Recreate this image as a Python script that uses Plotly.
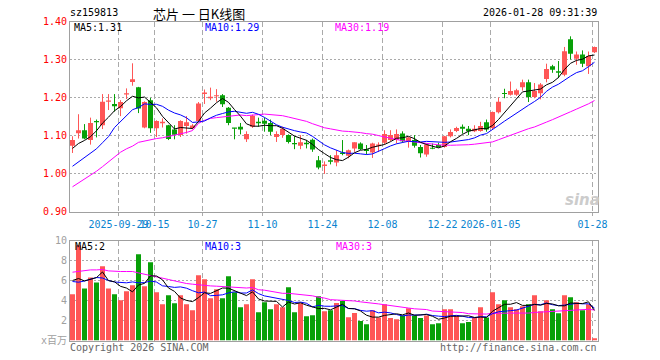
import plotly.graph_objects as go
import pandas as pd

W, H = 660, 360
OX, OY = 0, 0   # body margin is removed by the post script below

# ---------------- data ----------------
holidays = ["2025-10-01", "2025-10-02", "2025-10-03", "2025-10-06", "2025-10-07",
            "2025-10-08", "2026-01-01", "2026-01-02"]
dates = [d.strftime("%Y-%m-%d") for d in pd.bdate_range("2025-09-17", "2026-01-28")
         if d.strftime("%Y-%m-%d") not in holidays]

opens = [1.073, 1.106, 1.114, 1.088, 1.138, 1.127, 1.189, 1.183, 1.172, 1.208,
         1.241, 1.227, 1.121, 1.193, 1.119, 1.132, 1.127, 1.116, 1.101, 1.125,
         1.119, 1.138, 1.209, 1.198, 1.203, 1.206, 1.173, 1.120, 1.123, 1.090,
         1.123, 1.136, 1.139, 1.133, 1.096, 1.101, 1.101, 1.080, 1.073, 1.081,
         1.089, 1.035, 1.020, 1.035, 1.029, 1.055, 1.047, 1.066, 1.079, 1.064,
         1.055, 1.073, 1.081, 1.088, 1.089, 1.105, 1.085, 1.088, 1.070, 1.050,
         1.068, 1.075, 1.070, 1.098, 1.112, 1.123, 1.118, 1.111, 1.112, 1.135,
         1.120, 1.161, 1.212, 1.207, 1.207, 1.227, 1.240, 1.201, 1.211, 1.249,
         1.282, 1.269, 1.260, 1.353, 1.302, 1.313, 1.282, 1.319]
highs = [1.098, 1.156, 1.130, 1.147, 1.142, 1.209, 1.209, 1.209, 1.193, 1.224,
         1.290, 1.228, 1.190, 1.199, 1.140, 1.145, 1.128, 1.127, 1.140, 1.151,
         1.130, 1.188, 1.221, 1.226, 1.222, 1.209, 1.175, 1.120, 1.133, 1.111,
         1.155, 1.147, 1.147, 1.142, 1.111, 1.123, 1.103, 1.098, 1.101, 1.088,
         1.092, 1.046, 1.032, 1.048, 1.061, 1.088, 1.063, 1.082, 1.082, 1.075,
         1.081, 1.082, 1.114, 1.114, 1.116, 1.111, 1.096, 1.101, 1.075, 1.079,
         1.079, 1.081, 1.099, 1.116, 1.123, 1.129, 1.125, 1.127, 1.136, 1.142,
         1.163, 1.200, 1.223, 1.242, 1.223, 1.247, 1.247, 1.238, 1.238, 1.289,
         1.286, 1.296, 1.333, 1.361, 1.321, 1.324, 1.321, 1.334]
lows = [1.054, 1.092, 1.090, 1.076, 1.095, 1.117, 1.167, 1.163, 1.151, 1.196,
        1.231, 1.159, 1.119, 1.107, 1.096, 1.121, 1.088, 1.090, 1.096, 1.105,
        1.116, 1.135, 1.183, 1.193, 1.189, 1.175, 1.127, 1.090, 1.103, 1.083,
        1.120, 1.123, 1.110, 1.101, 1.083, 1.094, 1.079, 1.064, 1.064, 1.066,
        1.057, 1.011, 0.999, 1.024, 1.019, 1.048, 1.040, 1.057, 1.062, 1.050,
        1.041, 1.057, 1.076, 1.085, 1.079, 1.081, 1.068, 1.068, 1.042, 1.044,
        1.064, 1.068, 1.068, 1.095, 1.109, 1.105, 1.101, 1.109, 1.110, 1.110,
        1.116, 1.158, 1.198, 1.205, 1.204, 1.218, 1.188, 1.198, 1.195, 1.240,
        1.265, 1.251, 1.256, 1.300, 1.286, 1.280, 1.262, 1.317]
closes = [1.088, 1.114, 1.092, 1.133, 1.135, 1.189, 1.192, 1.177, 1.188, 1.211,
          1.248, 1.171, 1.188, 1.119, 1.138, 1.136, 1.091, 1.102, 1.138, 1.135,
          1.126, 1.184, 1.213, 1.202, 1.206, 1.182, 1.133, 1.118, 1.116, 1.104,
          1.152, 1.132, 1.131, 1.110, 1.104, 1.118, 1.083, 1.077, 1.082, 1.077,
          1.063, 1.016, 1.024, 1.031, 1.048, 1.051, 1.061, 1.082, 1.064, 1.059,
          1.079, 1.076, 1.104, 1.101, 1.104, 1.085, 1.095, 1.073, 1.053, 1.076,
          1.065, 1.070, 1.098, 1.109, 1.120, 1.118, 1.111, 1.118, 1.125, 1.116,
          1.162, 1.189, 1.209, 1.217, 1.219, 1.240, 1.201, 1.217, 1.234, 1.275,
          1.273, 1.265, 1.322, 1.315, 1.313, 1.289, 1.309, 1.333]
volumes = [4.63, 9.53, 5.20, 6.30, 5.80, 7.43, 5.20, 4.63, 4.03, 4.93,
           5.53, 8.63, 5.43, 7.83, 4.83, 3.63, 4.53, 3.73, 4.53, 3.63,
           3.03, 6.53, 6.13, 4.23, 5.13, 4.23, 6.43, 4.83, 3.33, 3.63,
           6.13, 2.83, 3.83, 3.13, 3.63, 3.33, 5.33, 2.83, 3.73, 2.43,
           2.53, 4.43, 2.93, 3.03, 3.76, 3.96, 2.33, 2.76, 1.96, 1.63,
           3.03, 2.30, 3.63, 2.26, 2.13, 2.50, 3.23, 2.50, 2.26, 2.50,
           1.63, 1.73, 3.13, 3.13, 2.50, 1.73, 1.86, 2.30, 3.33, 2.30,
           4.83, 3.63, 4.03, 3.33, 3.13, 3.43, 3.63, 4.53, 2.93, 4.03,
           3.13, 2.73, 4.53, 4.33, 3.83, 3.03, 3.63, 0.23]

ma5_head = [1.066, 1.079, 1.087, 1.097]
ma10_head = [1.019, 1.031, 1.043, 1.054, 1.065, 1.081, 1.097, 1.121, 1.137]
ma30_head = [0.965, 0.975, 0.985, 0.996, 1.006, 1.018, 1.031, 1.043, 1.056, 1.065,
             1.072, 1.082, 1.086, 1.090, 1.092, 1.094, 1.097, 1.100, 1.104, 1.108,
             1.113, 1.132, 1.140, 1.145, 1.147, 1.149, 1.150, 1.152, 1.154]
vma5_head = [6.00, 6.20, 5.96, 6.10]
vma10_head = [5.90, 5.83, 5.95, 6.10, 6.30, 6.25, 6.00, 5.85, 5.80]
vma30_head = [6.83, 6.93, 7.03, 7.06, 7.06, 7.10, 6.96, 6.90, 6.90, 6.90,
              6.90, 6.76, 6.63, 6.56, 6.43, 6.26, 6.10, 5.96, 5.80, 5.70,
              5.63, 5.56, 5.50, 5.46, 5.43, 5.40, 5.36, 5.33, 5.30]

tick_dates = ["2025-09-29", "2025-10-15", "2025-10-27", "2025-11-10", "2025-11-24",
              "2025-12-08", "2025-12-22", "2026-01-05", "2026-01-28"]
tick_labels = ["2025-09-29", "10-15", "10-27", "11-10", "11-24",
               "12-08", "12-22", "2026-01-05", "01-28"]
price_ticks = [0.90, 1.00, 1.10, 1.20, 1.30, 1.40]
vol_ticks = [0, 2, 4, 6, 8, 10]
vol_tick_labels = ["x百万", "2", "4", "6", "8", "10"]

# ---------------- helpers ----------------
def ma(values, n, head):
    s = pd.Series(values).rolling(n).mean().tolist()
    return head + s[len(head):]

def fx(px):  # page pixel x -> paper fraction
    return (px - OX) / W

def fy(py):  # page pixel y -> paper fraction
    return 1 - (py - OY) / H

RED = "#FF5656"
GREEN = "#08A008"
MONO = "DejaVu Sans Mono, Liberation Mono, monospace"
CJK = "Noto Sans CJK SC, Noto Sans, sans-serif"

n = len(closes)
idx = list(range(n))
up = [c >= o for o, c in zip(opens, closes)]

fig = go.Figure()

# candle wicks + bodies
for flag, col in ((True, RED), (False, GREEN)):
    wx, wy = [], []
    bx, bbase, bh = [], [], []
    for k in idx:
        if up[k] != flag:
            continue
        wx += [k, k, None]
        wy += [lows[k], highs[k], None]
        lo_b = min(opens[k], closes[k])
        hgt = max(abs(closes[k] - opens[k]), 0.0028)
        bx.append(k)
        bbase.append(lo_b)
        bh.append(hgt)
    fig.add_trace(go.Scatter(x=wx, y=wy, mode="lines", line=dict(color=col, width=1),
                             xaxis="x", yaxis="y", hoverinfo="skip"))
    fig.add_trace(go.Bar(x=bx, y=bh, base=bbase, width=5 / 6, marker=dict(color=col, line=dict(width=0)),
                         xaxis="x", yaxis="y", hoverinfo="skip"))

# price MAs
for vals, col in ((ma(closes, 30, ma30_head), "#FF00FF"),
                  (ma(closes, 10, ma10_head), "#0000FF"),
                  (ma(closes, 5, ma5_head), "#000000")):
    fig.add_trace(go.Scatter(x=idx, y=vals, mode="lines", line=dict(color=col, width=1),
                             xaxis="x", yaxis="y", hoverinfo="skip"))

# volume bars
for flag, col in ((True, RED), (False, GREEN)):
    vx = [k for k in idx if up[k] == flag]
    vy = [volumes[k] for k in vx]
    fig.add_trace(go.Bar(x=vx, y=vy, width=5 / 6, marker=dict(color=col, line=dict(width=0)),
                         xaxis="x2", yaxis="y2", hoverinfo="skip"))

for vals, col in ((ma(volumes, 30, vma30_head), "#FF00FF"),
                  (ma(volumes, 10, vma10_head), "#0000FF"),
                  (ma(volumes, 5, vma5_head), "#000000")):
    fig.add_trace(go.Scatter(x=idx, y=vals, mode="lines", line=dict(color=col, width=1),
                             xaxis="x2", yaxis="y2", hoverinfo="skip"))

# ---------------- layout ----------------
px_left, px_right = 70, 597.5
xdom = [fx(px_left), fx(px_right)]
xr = [-2.5 / 6, (px_right - 72.5) / 6]
tickpos = [dates.index(d) - 1 / 3 for d in tick_dates]

def ydom(top_px, bot_px):
    return [fy(bot_px), fy(top_px)]

grid_common = dict(showgrid=True, gridcolor="#AAAAAA", gridwidth=1, zeroline=False,
                   showline=True, linecolor="#A0A0A0", linewidth=1, mirror=True,
                   automargin=False)

fig.update_layout(
    width=W, height=H, margin=dict(l=0, r=0, t=0, b=0, pad=0, autoexpand=False),
    paper_bgcolor="white", plot_bgcolor="white",
    showlegend=False, barmode="overlay", hovermode=False,
    xaxis=dict(domain=xdom, range=xr, anchor="y", tickmode="array", tickvals=tickpos,
               ticktext=tick_labels, tickangle=0, griddash="5px,3px", ticks="outside", ticklen=3,
               tickcolor="#AAAAAA", tickfont=dict(family=MONO, size=10, color="#0A84D0"),
               **grid_common),
    yaxis=dict(domain=ydom(21.5, 211.5), range=[0.90, 1.40], anchor="x", tickmode="array",
               tickvals=price_ticks, ticktext=["%.2f" % v for v in price_ticks],
               griddash="2px,2px", ticks="", tickfont=dict(family=MONO, size=10, color="#FF0000"),
               **grid_common),
    xaxis2=dict(domain=xdom, range=xr, anchor="y2", tickmode="array", tickvals=tickpos,
                showticklabels=False, griddash="5px,3px", ticks="", **grid_common),
    yaxis2=dict(domain=ydom(240.5, 340.5), range=[0, 10], anchor="x2", tickmode="array",
                tickvals=vol_ticks, ticktext=vol_tick_labels, griddash="2px,2px", ticks="",
                tickfont=dict(family=MONO + ", Noto Sans CJK SC", size=10, color="#A0A0A0"),
                **grid_common),
)

def ann(text, x, y, color="#000000", anchor="left", size=10, family=MONO, **kw):
    fig.add_annotation(text=text, x=fx(x), y=fy(y), xref="paper", yref="paper",
                       xanchor=anchor, yanchor="middle", showarrow=False,
                       font=dict(family=family, size=size, color=color), borderpad=0, **kw)

ann("sz159813", 69, 13)
ann("芯片 一 日K线图", 199, 13.5, anchor="center", size=13, family=CJK)
ann("2026-01-28 09:31:39", 598, 13, anchor="right")
ann("MA5:1.31", 73, 28)
ann("MA10:1.29", 204, 28, color="#0000FF")
ann("MA30:1.19", 334, 28, color="#FF00FF")
ann("MA5:2", 74, 246)
ann("MA10:3", 204, 246, color="#0000FF")
ann("MA30:3", 335, 246, color="#FF00FF")
ann("Copyright 2026 SINA.COM", 69, 347, color="#666666")
ann("http://finance.sina.com.cn", 598, 347, color="#666666", anchor="right")
ann("<b><i>sina</i></b>", 582, 200, color="#CCCCCC", anchor="center", size=15,
    family="DejaVu Sans, sans-serif")

fig.write_html("out.html",
               config={"displayModeBar": False, "staticPlot": True},
               post_script="document.body.style.margin='0';document.body.style.overflow='hidden';")
